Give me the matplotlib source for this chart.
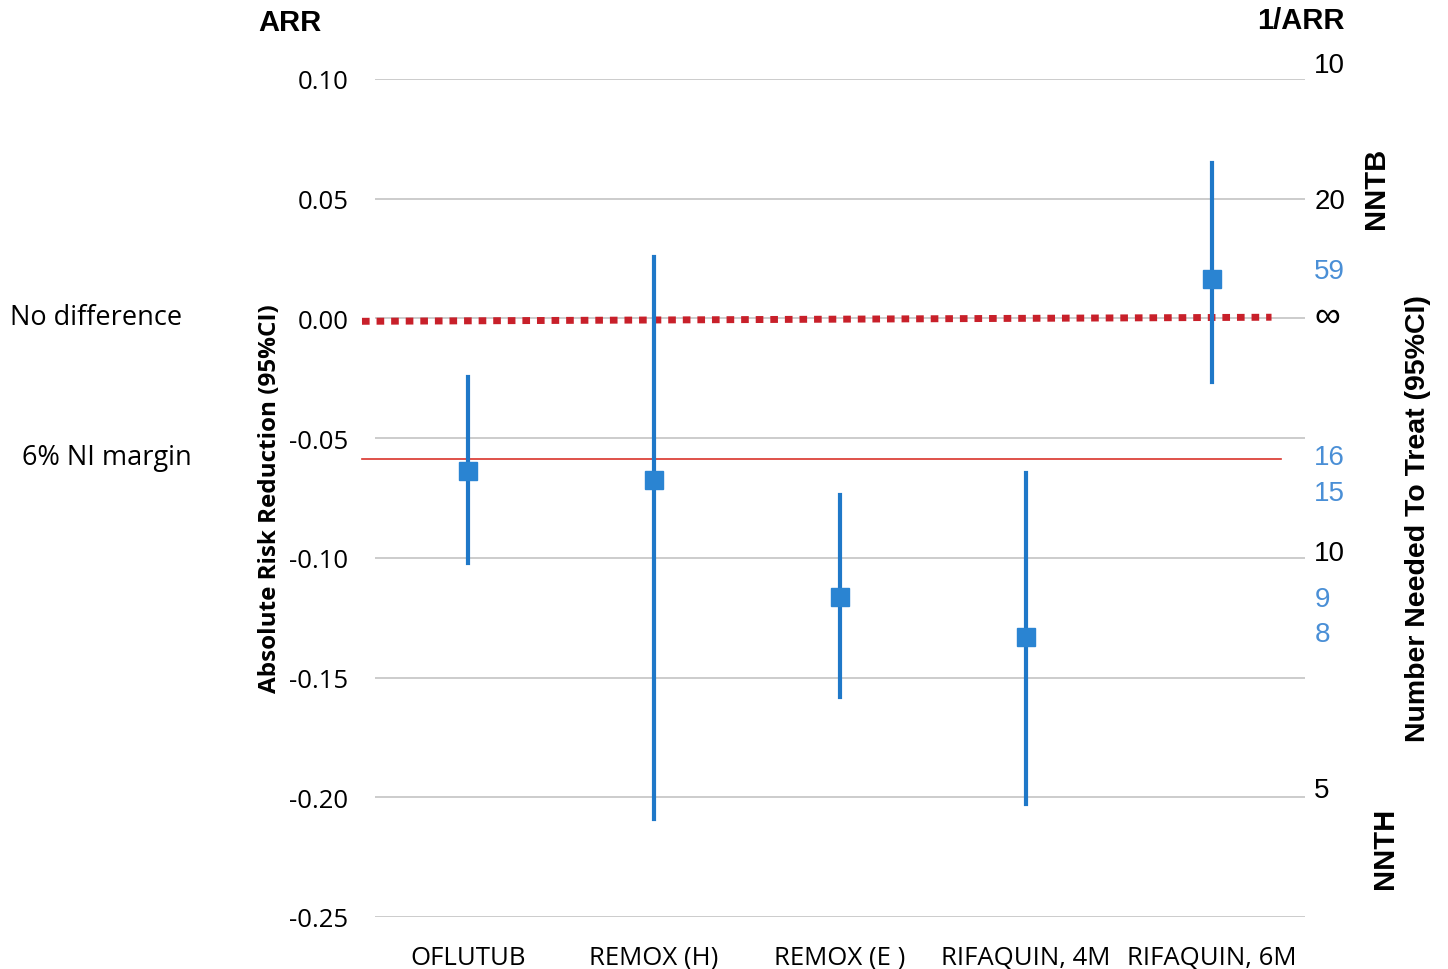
import matplotlib.pyplot as plt

# -------- data --------
trials = ["OFLUTUB", "REMOX (H)", "REMOX (E )", "RIFAQUIN, 4M", "RIFAQUIN, 6M"]
arr = [-0.0637, -0.0675, -0.1164, -0.1330, 0.0165]
ci_low = [-0.102, -0.209, -0.158, -0.203, -0.0265]
ci_high = [-0.0245, 0.0256, -0.0738, -0.0646, 0.065]

ni_margin = -0.0587
no_diff = [-0.0012, 0.0005]   # dotted line ends (left, right)

y_ticks = [0.10, 0.05, 0.00, -0.05, -0.10, -0.15, -0.20, -0.25]

# right side 1/ARR labels: (text, ARR position, highlighted)
nnt_labels = ["10", "20", "59", "\u221e", "16", "15", "10", "9", "8", "5"]
nnt_pos = [0.106, 0.049, 0.020, 0.001, -0.058, -0.073, -0.098, -0.117, -0.132, -0.197]
nnt_blue = [False, False, True, False, True, True, False, True, True, False]

BLUE = "#1f78c8"
RED = "#c8202a"

plt.rcParams["font.family"] = ["Open Sans", "DejaVu Sans"]

fig = plt.figure(figsize=(14.48, 9.70), dpi=100)
ax = fig.add_axes([375 / 1448, 1 - 918 / 970, 930 / 1448, 838 / 970])

x = list(range(len(trials)))
ax.set_xlim(-0.5, len(trials) - 0.5)
ax.set_ylim(-0.25, 0.10)

for yv in y_ticks:
    ax.axhline(yv, color="#c8c8c8", lw=1.3, zorder=0)

# no difference and NI margin
ax.plot([-0.57, 4.32], no_diff, color=RED, lw=5, linestyle=(0, (1.1, 1.0)),
        clip_on=False, zorder=2)
ax.plot([-0.57, 4.37], [ni_margin, ni_margin], color="#d9342b", lw=1.2,
        clip_on=False, zorder=2)

# CIs and point estimates
for i in x:
    ax.plot([i, i], [ci_low[i], ci_high[i]], color=BLUE, lw=3, zorder=3)
ax.plot(x, arr, "s", color="#2a84d2", markersize=13.5, zorder=4)

for s in ax.spines.values():
    s.set_visible(False)
ax.set_yticks(y_ticks)
ax.set_yticklabels([f"{v:.2f}" for v in y_ticks], fontsize=18.5)
ax.set_xticks(x)
ax.set_xticklabels(trials, fontsize=18.5)
ax.tick_params(axis="y", length=0, pad=19)
ax.tick_params(axis="x", length=0, pad=20)

ax.set_ylabel("Absolute Risk Reduction (95%CI)", fontsize=17.5, fontweight="bold")
ax.yaxis.set_label_coords(-0.1, 0.5)

# right side labels
for t, p, b in zip(nnt_labels, nnt_pos, nnt_blue):
    ax.text(1.01, p, t, transform=ax.get_yaxis_transform(), va="center",
            ha="left", fontsize=26 if t == "\u221e" else 20,
            color="#4a8fd6" if b else "black", family="Liberation Sans")

fig.text(290 / 1448, 1 - 23 / 970, "ARR", ha="center", va="center", fontsize=21,
         fontweight="bold", family="Liberation Sans")
fig.text(1301 / 1448, 1 - 21 / 970, "1/ARR", ha="center", va="center", fontsize=21,
         fontweight="bold", family="Liberation Sans")
fig.text(1376 / 1448, 1 - 188 / 970, "NNTB", rotation=90, ha="center", va="center",
         fontsize=21, fontweight="bold", family="Liberation Sans")
fig.text(1385 / 1448, 1 - 848 / 970, "NNTH", rotation=90, ha="center", va="center",
         fontsize=21, fontweight="bold", family="Liberation Sans")
fig.text(1418 / 1448, 1 - 519 / 970, "Number Needed To Treat (95%CI)", rotation=90,
         ha="center", va="center", fontsize=20.5, fontweight="bold",
         family="Liberation Sans")
fig.text(96 / 1448, 1 - 318 / 970, "No difference", ha="center", va="center",
         fontsize=19.5)
fig.text(107 / 1448, 1 - 458 / 970, "6% NI margin", ha="center", va="center",
         fontsize=19.5)

fig.savefig("out.png", dpi=100)
